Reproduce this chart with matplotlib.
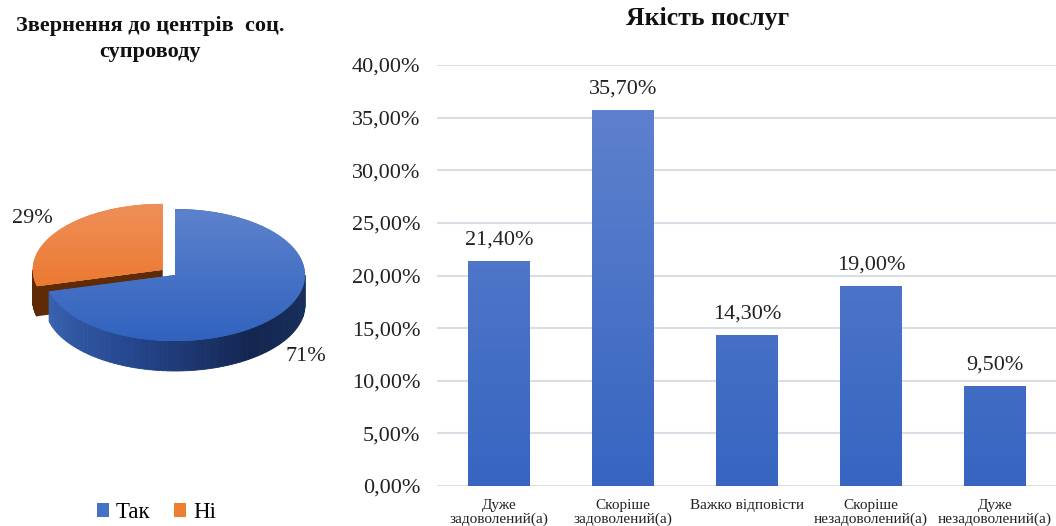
import numpy as np
import matplotlib.pyplot as plt
from matplotlib.patches import Polygon, Patch
from matplotlib.colors import LinearSegmentedColormap, to_rgb

# дані
pie_labels = ['Так', 'Ні']
pie_values = [71, 29]

categories = ['Дуже\nзадоволений(а)', 'Скоріше\nзадоволений(а)', 'Важко відповісти',
              'Скоріше\nнезадоволений(а)', 'Дуже\nнезадоволений(а)']
values = [21.4, 35.7, 14.3, 19.0, 9.5]

plt.rcParams['font.family'] = ['Liberation Serif', 'DejaVu Serif']

fig = plt.figure(figsize=(10.56, 5.26), dpi=100)

# ---------- 3D pie (drawn by hand) ----------
axp = fig.add_axes([0, 0, 1, 1])
axp.set_xlim(0, 1056)
axp.set_ylim(526, 0)
axp.axis('off')

cx, cy, rx, ry, depth = 175, 275, 130, 66, 30
explode = [0, 14]


def top_pts(ox, oy, a0, a1, n=120):
    t = np.radians(np.linspace(a0, a1, n))
    return np.column_stack([ox + rx * np.cos(t), oy - ry * np.sin(t)])


def blend(c1, c2, f):
    c1, c2 = np.array(to_rgb(c1)), np.array(to_rgb(c2))
    return tuple(c1 + (c2 - c1) * f)


def grad_fill(ax, poly, c_top, c_bot, y0, y1):
    cmap = LinearSegmentedColormap.from_list('g', [c_top, c_bot])
    im = ax.imshow(np.linspace(0, 1, 100).reshape(-1, 1), cmap=cmap, aspect='auto',
                   extent=[0, 1056, y1, y0], zorder=poly.get_zorder(), interpolation='bicubic')
    im.set_clip_path(poly)


angles = []
start = 90
for v in pie_values:
    sweep = 360 * v / sum(pie_values)
    angles.append((start - sweep, start))
    start -= sweep

styles = [
    dict(top=('#5d82cd', '#3163be'), side=['#3b64b2', '#25478f', '#132650', '#18305c']),
    dict(top=('#ef8f58', '#ea6d1a'), side=['#5e2b06', '#5e2b06']),
]

z = 1
# orange drawn first (behind), then blue
for i in [1, 0]:
    a0, a1 = angles[i]
    mid = np.radians((a0 + a1) / 2)
    ox = cx + explode[i] * np.cos(mid) / 0.9
    oy = cy - explode[i] * np.sin(mid) * 0.6
    st = styles[i]
    # radial face at the clockwise end (front facing for orange)
    if i == 1:
        e = top_pts(ox, oy, a1, a1, 1)[0]
        face = Polygon([[ox, oy], e, [e[0], e[1] + depth], [ox, oy + depth]],
                       closed=True, facecolor=st['side'][0], edgecolor='none', zorder=z)
        axp.add_patch(face)
        z += 1
    # side wall: visible where sin < 0 (front half, -180..0)
    segs = []
    for shift in (0, -360, 360):
        b0, b1 = max(a0 + shift, -180), min(a1 + shift, 0)
        if b1 > b0:
            segs.append((b0, b1))
    for b0, b1 in segs:
        n = 80
        tt = np.linspace(b0, b1, n + 1)
        for k in range(n):
            p = top_pts(ox, oy, tt[k], tt[k + 1], 2)
            quad = [p[0], p[1], [p[1][0], p[1][1] + depth], [p[0][0], p[0][1] + depth]]
            f = (k + 0.5) / n
            cols = st['side']
            pos = f * (len(cols) - 1)
            j = min(int(pos), len(cols) - 2)
            col = blend(cols[j], cols[j + 1], pos - j)
            axp.add_patch(Polygon(quad, closed=True, facecolor=col, edgecolor=col,
                                  linewidth=0.6, zorder=z))
    z += 1
    # top face
    pts = np.vstack([[ox, oy], top_pts(ox, oy, a0, a1)])
    poly = Polygon(pts, closed=True, facecolor=st['top'][1], edgecolor='none', zorder=z)
    axp.add_patch(poly)
    grad_fill(axp, poly, st['top'][0], st['top'][1], oy - ry, oy + ry)
    z += 1
    # percentage label
    lx = ox + 1.27 * rx * np.cos(mid)
    ly = oy - 1.27 * ry * np.sin(mid) + (depth if np.sin(mid) < 0 else 0)
    axp.text(lx, ly, f'{pie_values[i]}%', fontsize=16, ha='center', va='center',
             color='#222222', zorder=10)

axp.text(150, 39, 'Звернення до центрів  соц.\nсупроводу', ha='center', va='center',
         fontsize=16, fontweight='bold', linespacing=1.45, color='#111111')

handles = [Patch(facecolor=c, edgecolor='none') for c in ['#4472c4', '#ed7d31']]
fig.legend(handles, pie_labels, loc='center', bbox_to_anchor=(0.148, 0.026), ncol=2,
           frameon=False, fontsize=16.5, handlelength=0.55, handleheight=0.55,
           handletextpad=0.3, columnspacing=1.0)

# ---------- bar chart ----------
ax = fig.add_axes([437 / 1056, 40 / 526, 620 / 1056, 421 / 526])
x = np.arange(len(categories))
bars = ax.bar(x, values, width=0.5, color='#4a73c6', zorder=3)
cmap = LinearSegmentedColormap.from_list('b', ['#6284cf', '#3765c1'])
for b in bars:
    b.set_edgecolor('none')
    im = ax.imshow(np.linspace(0, 1, 100).reshape(-1, 1), cmap=cmap, aspect='auto',
                   extent=[b.get_x(), b.get_x() + b.get_width(), 0, 40], zorder=3.5,
                   interpolation='bicubic')
    im.set_clip_path(b)

for xi, v in zip(x, values):
    ax.text(xi, v + 1.1, f'{v:.2f}%'.replace('.', ','), ha='center', va='bottom',
            fontsize=16, color='#222222')

ax.set_xlim(-0.5, len(categories) - 0.5)
ax.set_ylim(0, 40)
ax.set_yticks(np.arange(0, 41, 5))
ax.set_yticklabels([f'{t:.2f}%'.replace('.', ',') for t in np.arange(0, 41, 5)])
ax.grid(axis='y', color='#d9dde4', linewidth=1.5, zorder=0)
ax.set_xticks(x)
ax.set_xticklabels(categories, fontsize=11, linespacing=1.05)
for s in ax.spines.values():
    s.set_visible(False)
ax.tick_params(axis='both', length=0, colors='#222222')
ax.tick_params(axis='y', labelsize=16, pad=12)
ax.tick_params(axis='x', pad=9)
fig.text(708 / 1056, 1 - 18 / 526, 'Якість послуг', ha='center', va='center',
         fontsize=18.5, fontweight='bold', color='#111111')

fig.savefig('out.png', dpi=100)
